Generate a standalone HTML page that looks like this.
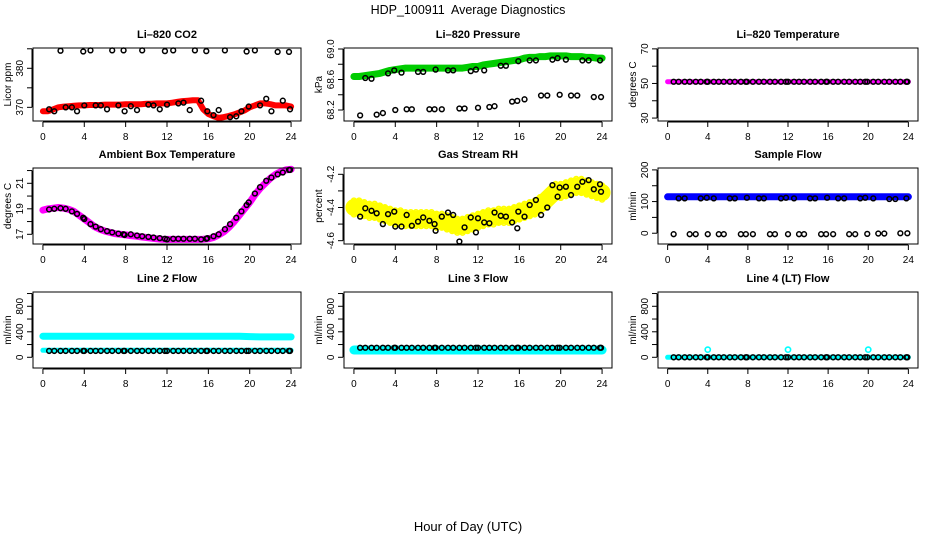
<!DOCTYPE html>
<html><head><meta charset="utf-8">
<style>
html,body{margin:0;padding:0;background:#fff;}
svg{display:block;font-family:"Liberation Sans",Arial,sans-serif;}
</style></head>
<body>
<svg id="chart" width="936" height="540" viewBox="0 0 936 540" xmlns="http://www.w3.org/2000/svg">
<text x="468" y="14" text-anchor="middle" font-size="12.5">HDP_100911&#160; Average Diagnostics</text>
<text x="468" y="531" text-anchor="middle" font-size="13">Hour of Day (UTC)</text>
</svg>
<script>
// ---- data ----
const blackHours = [0.6,1.1,1.7,2.2,2.8,3.3,3.9,4.0,4.6,5.1,5.6,6.2,6.7,7.3,7.8,7.9,8.5,9.1,9.6,10.2,10.7,11.3,11.8,12.0,12.6,13.1,13.6,14.2,14.7,15.3,15.8,15.9,16.5,17.0,17.6,18.1,18.7,19.2,19.7,19.9,20.5,21.0,21.6,22.1,22.7,23.2,23.8,23.9];
const xTicks = [0,4,8,12,16,20,24];

const co2Band = [369,369,369.5,370,370.2,370.3,370.4,370.5,370.5,370.6,370.6,370.6,370.7,370.7,370.7,370.7,370.8,370.8,370.8,370.8,370.9,370.9,371,371,371,371.2,371.4,371.6,371.7,371.8,371.8,369.5,368.3,367.7,367.3,367.5,367.8,368.2,368.7,369.2,370,370.5,371,371,370.8,370.5,370.5,370.5,370.2];
const co2Black = [369.5,369,384.5,370,370,369,384.3,370.5,384.6,370.5,370.5,369.5,384.6,370.5,384.6,369,370.3,369.3,384.6,370.7,370.5,369.5,384.4,370.7,384.6,371,371.2,369.3,384.6,371.7,384.4,369,368,369.3,384.6,367.5,367.7,369,384.3,370.2,384.6,370.5,372.2,369,384.2,371.7,384.2,369.5];

const presBand = [68.64,68.64,68.65,68.66,68.67,68.68,68.70,68.72,68.73,68.74,68.75,68.75,68.75,68.75,68.75,68.75,68.75,68.75,68.75,68.75,68.75,68.75,68.76,68.77,68.77,68.79,68.80,68.81,68.82,68.83,68.84,68.85,68.86,68.88,68.89,68.89,68.90,68.90,68.91,68.91,68.91,68.91,68.90,68.90,68.90,68.89,68.89,68.88,68.88];
const presBlack = [68.13,68.62,68.61,68.14,68.16,68.68,68.72,68.2,68.69,68.21,68.21,68.7,68.7,68.21,68.21,68.73,68.21,68.72,68.72,68.22,68.22,68.71,68.73,68.23,68.72,68.24,68.25,68.78,68.78,68.31,68.32,68.84,68.34,68.85,68.85,68.39,68.39,68.86,68.88,68.4,68.86,68.39,68.39,68.85,68.85,68.37,68.85,68.37];

const tempBand = [51,51,51,51,51,51,51,51,51,51,51,51,51,51,51,51,51,51,51,51,51,51,51,51,51];
const tempBlack = blackHours.map(()=>51);

const ambBand = [18.9,19.0,19.05,19.1,19.05,18.95,18.8,18.5,18.2,17.9,17.6,17.4,17.25,17.15,17.05,17.0,16.95,16.9,16.85,16.8,16.75,16.7,16.65,16.62,16.6,16.6,16.6,16.6,16.6,16.6,16.6,16.62,16.65,16.75,16.95,17.2,17.55,18.0,18.5,19.0,19.5,20.1,20.6,21.0,21.4,21.7,21.9,22.05,22.1];
const ambBlack = [18.95,19.0,19.05,19.0,18.8,18.6,18.3,18.2,17.8,17.6,17.4,17.25,17.15,17.05,17.0,16.95,17.0,16.9,16.85,16.8,16.75,16.7,16.65,16.6,16.65,16.65,16.65,16.65,16.65,16.6,16.65,16.7,16.85,17.0,17.4,17.8,18.3,18.8,19.3,19.5,20.2,20.7,21.2,21.45,21.7,21.85,22.05,22.05];

const rhBand = [-4.40,-4.40,-4.41,-4.42,-4.42,-4.43,-4.44,-4.45,-4.46,-4.46,-4.47,-4.47,-4.47,-4.47,-4.47,-4.47,-4.48,-4.48,-4.49,-4.50,-4.51,-4.51,-4.50,-4.49,-4.48,-4.47,-4.46,-4.46,-4.45,-4.45,-4.45,-4.44,-4.43,-4.42,-4.41,-4.40,-4.38,-4.36,-4.33,-4.30,-4.30,-4.29,-4.28,-4.27,-4.27,-4.28,-4.29,-4.30,-4.31];
const rhBlack = [-4.455,-4.405,-4.42,-4.435,-4.5,-4.44,-4.425,-4.515,-4.515,-4.445,-4.51,-4.485,-4.46,-4.48,-4.5,-4.54,-4.455,-4.43,-4.445,-4.605,-4.52,-4.46,-4.55,-4.465,-4.49,-4.495,-4.43,-4.45,-4.455,-4.49,-4.525,-4.425,-4.455,-4.385,-4.355,-4.445,-4.4,-4.265,-4.335,-4.28,-4.275,-4.325,-4.275,-4.245,-4.235,-4.29,-4.26,-4.305];

const flowBand = [115,115,115,115,115,115,115,115,115,115,115,115,115,115,115,115,115,115,115,115,115,115,115,115,115];
const flowBlack = [-3,110,110,-3,-3,110,112,-3,110,-3,-3,110,110,-3,-3,112,-3,110,110,-3,-3,110,112,-3,110,-3,-3,110,110,-3,-3,112,-3,110,110,-3,-3,110,112,-2,110,-1,-1,108,108,0,110,0];

const line2BandHigh = [330,330,330,330,330,330,330,330,330,330,330,330,330,330,330,330,330,330,330,330,325,320,320,320,320];
const line2BandLow = [110,110,110,110,110,110,110,110,110,110,110,110,110,110,110,110,110,110,110,110,110,110,110,110,110];
const line2Black = blackHours.map(()=>100);

const line3Band = [115,115,115,115,115,115,115,115,115,115,115,115,115,115,115,115,115,115,115,115,115,115,115,115,115];
const line3Black = blackHours.map(()=>150);

const line4Band = [0,0,0,0,0,0,0,0,0,0,0,0,0,0,0,0,0,0,0,0,0,0,0,0,0];
const line4SpikeHours = [4,12,20];
const line4SpikeValues = [120,120,120];
const line4Black = blackHours.map(()=>0);

// ---- drawing ----
const svg = document.getElementById('chart');
const NS = 'http://www.w3.org/2000/svg';
function mk(tag, attrs, parent){
  const e = document.createElementNS(NS, tag);
  for (const k in attrs) e.setAttribute(k, attrs[k]);
  (parent||svg).appendChild(e);
  return e;
}
const cols = [[33,301],[344,612],[658,918]];
const rows = [[48,121],[168,244],[292,368]];

function panel(p){
  const [x0,x1] = cols[p.c], [y0,y1] = rows[p.r];
  const g = mk('g',{});
  
  
  const xs = h => x0 + (h + 0.96) / 25.92 * (x1 - x0);
  const ys = v => y1 - (v - p.ymin) / (p.ymax - p.ymin) * (y1 - y0);
  (p.bands||[]).forEach(b=>{
    const n = b.vals.length;
    const pts = b.vals.map((v,i)=> xs(i*24/(n-1)).toFixed(1)+','+ys(v).toFixed(1)).join(' ');
    const pl = mk('polyline',{points:pts,fill:'none',stroke:b.color,'stroke-width':b.w,'stroke-linejoin':'round','stroke-linecap':'round'},g);
    
    
    if (b.rings) {
      b.vals.forEach((v,i)=>{
        [-b.w/2.5, b.w/2.5].forEach(off=>{
          const c = mk('circle',{cx:xs(i*24/(n-1)),cy:ys(v)+off,r:2.6,fill:'none',stroke:b.color,'stroke-width':1.5},g);
          
          
        });
      });
    }
  });
  (p.extra||[]).forEach(e=>{
    e.hours.forEach((h,i)=>{
      const c = mk('circle',{cx:xs(h),cy:ys(e.vals[i]),r:2.6,fill:'none',stroke:e.color,'stroke-width':1.6},g);
      
      
    });
  });
  blackHours.forEach((h,i)=>{
    const c = mk('circle',{cx:xs(h),cy:ys(p.black[i]),r:2.4,fill:'none',stroke:'#000','stroke-width':1.5},g);
    
    
  });
  const box = mk('rect',{x:x0,y:y0,width:x1-x0,height:y1-y0,fill:'none',stroke:'#000','stroke-width':1},g);
  
  
  mk('line',{x1:xs(0),x2:xs(24),y1:y1+1,y2:y1+1,stroke:'#000'},g);
  xTicks.forEach(t=>{
    mk('line',{x1:xs(t),x2:xs(t),y1:y1+1,y2:y1+6,stroke:'#000'},g);
    const tx = mk('text',{x:xs(t),y:y1+19,'text-anchor':'middle','font-size':10},g);
    tx.textContent = t;
    
    
  });
  mk('line',{x1:x0-1,x2:x0-1,y1:ys(p.ticks[0]),y2:ys(p.ticks[p.ticks.length-1]),stroke:'#000'},g);
  p.ticks.forEach(t=>{
    mk('line',{x1:x0-1,x2:x0-6,y1:ys(t),y2:ys(t),stroke:'#000'},g);
  });
  p.labels.forEach(t=>{
    const yy = ys(t), xx = x0-10;
    const tx = mk('text',{x:xx,y:yy,'text-anchor':'middle','font-size':10,transform:`rotate(-90 ${xx} ${yy})`},g);
    tx.textContent = t;
    
    
  });
  const ym = (y0+y1)/2, xl = x0-22;
  const yl = mk('text',{x:xl,y:ym,'text-anchor':'middle','font-size':10,transform:`rotate(-90 ${xl} ${ym})`},g);
  yl.textContent = p.ylab;
  
  
  const tt = mk('text',{x:(x0+x1)/2,y:y0-10,'text-anchor':'middle','font-size':11,'font-weight':'bold'},g);
  tt.textContent = p.title;
  
  
}

panel({name:'co2-panel',c:0,r:0,ymin:366.5,ymax:385.2,ticks:[370,375,380,385],labels:[370,380],ylab:'Licor ppm',title:'Li–820 CO2',
  bands:[{name:'co2-series',vals:co2Band,color:'#ff0000',w:6}],black:co2Black});
panel({name:'pressure-panel',c:1,r:0,ymin:68.056,ymax:69.013,ticks:[68.2,68.4,68.6,68.8,69.0],labels:['68.2','68.6','69.0'],ylab:'kPa',title:'Li–820 Pressure',
  bands:[{name:'pressure-series',vals:presBand,color:'#00cc00',w:7}],black:presBlack});
panel({name:'temperature-panel',c:2,r:0,ymin:28.3,ymax:70.5,ticks:[30,40,50,60,70],labels:[30,50,70],ylab:'degrees C',title:'Li–820 Temperature',
  bands:[{name:'temperature-series',vals:tempBand,color:'#ff00ff',w:5}],black:tempBlack});
panel({name:'ambient-panel',c:0,r:1,ymin:16.24,ymax:22.2,ticks:[17,18,19,20,21,22],labels:[17,19,21],ylab:'degrees C',title:'Ambient Box Temperature',
  bands:[{name:'ambient-series',vals:ambBand,color:'#ff00ff',w:7}],black:ambBlack});
panel({name:'rh-panel',c:1,r:1,ymin:-4.62,ymax:-4.162,ticks:[-4.6,-4.5,-4.4,-4.3,-4.2],labels:['-4.6','-4.4','-4.2'],ylab:'percent',title:'Gas Stream RH',
  bands:[{name:'rh-series',vals:rhBand,color:'#ffff00',w:17,rings:true}],black:rhBlack});
panel({name:'sample-flow-panel',c:2,r:1,ymin:-34,ymax:206,ticks:[0,50,100,150,200],labels:[0,100,200],ylab:'ml/min',title:'Sample Flow',
  bands:[{name:'sample-flow-series',vals:flowBand,color:'#0000ff',w:7}],black:flowBlack});
panel({name:'line2-panel',c:0,r:2,ymin:-168,ymax:1024,ticks:[0,200,400,600,800,1000],labels:[0,400,800],ylab:'ml/min',title:'Line 2 Flow',
  bands:[{name:'line2-high-series',vals:line2BandHigh,color:'#00ffff',w:7},{name:'line2-low-series',vals:line2BandLow,color:'#00ffff',w:5}],black:line2Black});
panel({name:'line3-panel',c:1,r:2,ymin:-168,ymax:1024,ticks:[0,200,400,600,800,1000],labels:[0,400,800],ylab:'ml/min',title:'Line 3 Flow',
  bands:[{name:'line3-series',vals:line3Band,color:'#00ffff',w:9}],black:line3Black});
panel({name:'line4-panel',c:2,r:2,ymin:-168,ymax:1024,ticks:[0,200,400,600,800,1000],labels:[0,400,800],ylab:'ml/min',title:'Line 4 (LT) Flow',
  bands:[{name:'line4-series',vals:line4Band,color:'#00ffff',w:5}],extra:[{hours:line4SpikeHours,vals:line4SpikeValues,color:'#00ffff'}],black:line4Black});
</script>
</body></html>
